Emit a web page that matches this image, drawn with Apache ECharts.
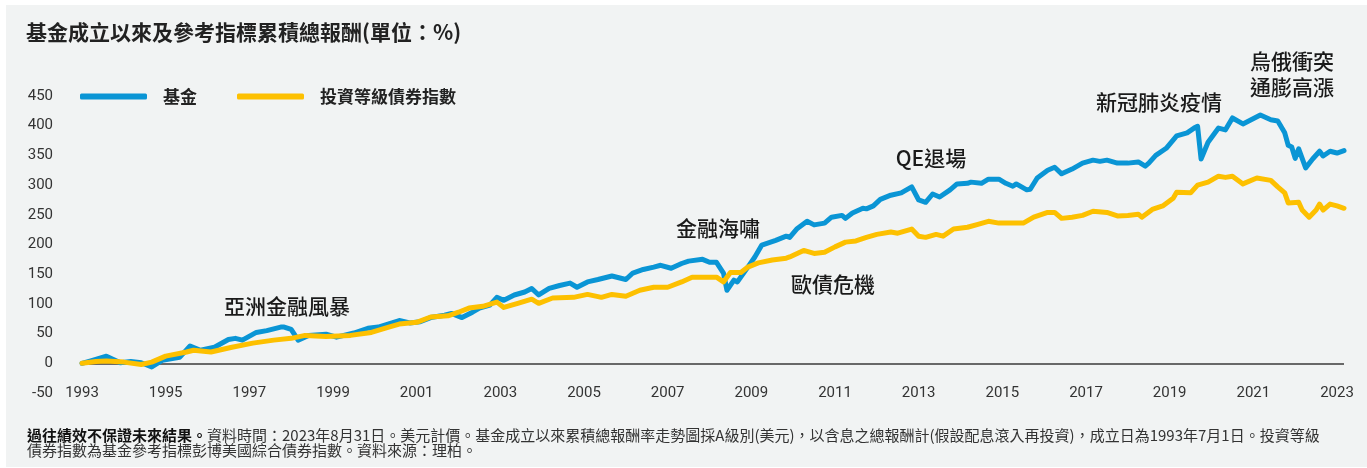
<!DOCTYPE html>
<html>
<head>
<meta charset="utf-8">
<script src="https://cdn.jsdelivr.net/npm/echarts@6/dist/echarts.min.js"></script>
<style>
  html, body { margin: 0; padding: 0; background: #fff; }
  #main { width: 1367px; height: 468px; }
</style>
</head>
<body>
<div id="main"></div>
<script>
// 月份以 1993年6月 為 0
var yearLabels = ['1993', '1995', '1997', '1999', '2001', '2003', '2005', '2007',
  '2009', '2011', '2013', '2015', '2017', '2019', '2021', '2023'];

// 基金
var fundMonths = [0, 3, 7, 11, 14, 17, 20, 23, 28, 31, 34, 38, 42, 44, 46, 50, 53, 57, 58, 60,
  62, 65, 70, 73, 78, 82, 85, 91, 94, 97, 100, 104, 106, 109, 112, 114, 117, 119, 121, 124,
  127, 129, 131, 134, 137, 140, 142, 145, 148, 152, 156, 158, 161, 164, 166, 169, 172, 174, 178, 180,
  182, 184, 185, 187, 188, 191, 193, 195, 199, 202, 203, 205, 208, 210, 213, 215, 218, 219, 221, 224,
  225, 227, 229, 232, 235, 238, 240, 242, 244, 246, 249, 251, 254, 255, 258, 260, 263, 265, 267, 268,
  271, 272, 274, 277, 279, 281, 284, 287, 290, 292, 294, 297, 300, 303, 305, 306, 308, 311, 314, 317,
  319, 320, 321, 323, 326, 328, 330, 333, 338, 341, 343, 345, 346, 347, 348, 349, 351, 353, 355, 356,
  358, 360, 362];
var fundValues = [0, 5, 12, 1, 3, 1, -6, 5, 10, 29, 22, 27, 40, 42, 39, 52, 55, 61, 61, 57,
  39, 47, 49, 44, 51, 59, 61, 72, 68, 70, 77, 81, 84, 77, 86, 93, 98, 111, 106, 115,
  120, 126, 115, 126, 131, 135, 128, 137, 141, 147, 141, 152, 158, 162, 165, 160, 168, 172, 175, 170,
  170, 152, 123, 140, 137, 162, 179, 199, 207, 214, 212, 226, 239, 233, 236, 246, 249, 244, 253, 261,
  260, 265, 276, 283, 287, 297, 275, 271, 285, 280, 292, 302, 303, 305, 303, 310, 310, 303, 298, 302,
  292, 293, 312, 325, 330, 319, 327, 337, 342, 340, 342, 337, 337, 339, 332, 337, 350, 362, 383, 388,
  396, 399, 344, 372, 396, 393, 413, 403, 418, 410, 408, 388, 367, 364, 345, 361, 329, 344, 357, 349,
  357, 354, 358];

// 投資等級債券指數
var bondMonths = [0, 4, 7, 12, 17, 20, 24, 30, 32, 37, 43, 49, 55, 60, 64, 70, 77, 83, 88, 91,
  96, 100, 105, 108, 111, 115, 119, 121, 125, 129, 131, 135, 141, 145, 149, 152, 156, 160, 164, 168,
  172, 175, 180, 182, 184, 186, 189, 191, 194, 198, 202, 203, 207, 210, 213, 216, 219, 222, 225, 228,
  232, 234, 238, 240, 242, 245, 247, 250, 254, 257, 260, 263, 267, 270, 273, 277, 279, 281, 284, 287,
  290, 294, 297, 300, 303, 304, 307, 310, 313, 314, 318, 320, 323, 326, 328, 330, 333, 337, 341, 343,
  345, 346, 349, 350, 352, 354, 355, 356, 358, 360, 362];
var bondValues = [0, 3, 4, 2, -2, 2, 12, 19, 22, 19, 27, 34, 39, 42, 47, 45, 47, 52, 61, 66,
  69, 78, 80, 86, 93, 96, 103, 94, 101, 108, 101, 110, 111, 116, 111, 116, 113, 123, 128, 128,
  137, 145, 145, 145, 137, 153, 153, 162, 169, 174, 177, 179, 190, 185, 187, 196, 204, 206, 212, 217,
  221, 219, 226, 214, 212, 217, 214, 226, 229, 234, 239, 236, 236, 236, 246, 254, 254, 244, 246, 249,
  256, 254, 248, 249, 251, 246, 259, 265, 278, 288, 287, 300, 305, 315, 313, 315, 302, 312, 308, 297,
  287, 270, 271, 258, 246, 258, 268, 258, 268, 265, 261];

var seriesNames = ['基金', '投資等級債券指數'];

function pairs(xs, ys) {
  return xs.map(function (m, i) { return [m, ys[i]]; });
}

var myChart = echarts.init(document.getElementById('main'));

// 只顯示 0 的那條線
var zeroLineColors = [];
for (var k = 0; k < 11; k++) {
  zeroLineColors.push(k === 1 ? '#3a3a3a' : 'rgba(0,0,0,0)');
}

var cjk = '"Noto Sans CJK TC", "Noto Sans CJK SC", sans-serif';

function note(text, x, y) {
  return {
    type: 'text',
    x: x,
    y: y,
    z: 50,
    style: {
      text: text,
      fill: '#1a1a1a',
      fontSize: 21,
      fontWeight: 500,
      fontFamily: cjk,
      lineHeight: 26,
      align: 'center',
      verticalAlign: 'middle',
      textAlign: 'center',
      textVerticalAlign: 'middle'
    }
  };
}

var option = {
  animation: false,
  graphic: [
    {
      type: 'rect',
      z: -100,
      shape: { x: 6, y: 5, width: 1361, height: 462 },
      style: { fill: '#f1f3f3' }
    },
    {
      type: 'text',
      x: 26,
      y: 32,
      style: {
        text: '基金成立以來及參考指標累積總報酬(單位：%)',
        fill: '#222',
        fontSize: 21,
        fontWeight: 'bold',
        fontFamily: cjk,
        verticalAlign: 'middle',
        textVerticalAlign: 'middle'
      }
    },
    note('亞洲金融風暴', 287, 306),
    note('金融海嘯', 718, 228),
    note('歐債危機', 833, 284),
    note('QE退場', 931, 158),
    note('新冠肺炎疫情', 1159, 102),
    note('烏俄衝突\n通膨高漲', 1292, 74),
    {
      type: 'text',
      x: 27,
      y: 428,
      style: {
        text: '{b|過往績效不保證未來結果。}資料時間：2023年8月31日。美元計價。基金成立以來累積總報酬率走勢圖採A級別(美元)，以含息之總報酬計(假設配息滾入再投資)，成立日為1993年7月1日。投資等級\n債券指數為基金參考指標彭博美國綜合債券指數。資料來源：理柏。',
        fill: '#333',
        fontSize: 15,
        fontFamily: cjk,
        lineHeight: 15,
        rich: {
          b: { fontWeight: 'bold', fontSize: 15, fontFamily: cjk, fill: '#111', lineHeight: 15 }
        }
      }
    }
  ],
  legend: {
    data: seriesNames,
    left: 80,
    top: 88,
    padding: 0,
    icon: 'roundRect',
    itemWidth: 67,
    itemHeight: 6,
    itemGap: 40,
    textStyle: {
      fontSize: 17,
      fontWeight: 'bold',
      fontFamily: cjk,
      color: '#222',
      padding: [0, 0, 0, 11]
    }
  },
  grid: {
    left: 82,
    right: 23,
    top: 96,
    bottom: 75
  },
  xAxis: {
    type: 'value',
    min: 0,
    max: 362,
    interval: 24,
    axisLine: { show: false },
    axisTick: { show: false },
    splitLine: { show: false },
    axisLabel: {
      margin: 0,
      verticalAlign: 'middle',
      color: '#333',
      fontSize: 15,
      fontFamily: 'Roboto',
      showMaxLabel: false,
      formatter: function (v) {
        return v % 24 === 0 ? yearLabels[v / 24] : '';
      }
    }
  },
  yAxis: {
    type: 'value',
    min: -50,
    max: 450,
    interval: 50,
    axisLine: { show: false },
    axisTick: { show: false },
    axisLabel: {
      margin: 29,
      color: '#333',
      fontSize: 15,
      fontFamily: 'Roboto'
    },
    splitLine: {
      show: true,
      lineStyle: { color: zeroLineColors, width: 1.5 }
    }
  },
  series: [
    {
      name: seriesNames[0],
      type: 'line',
      showSymbol: false,
      color: '#0a95d5',
      lineStyle: { width: 5, cap: 'round', join: 'round' },
      data: pairs(fundMonths, fundValues)
    },
    {
      name: seriesNames[1],
      type: 'line',
      showSymbol: false,
      color: '#fdc000',
      lineStyle: { width: 5, cap: 'round', join: 'round' },
      data: pairs(bondMonths, bondValues)
    }
  ]
};

myChart.setOption(option);
</script>
</body>
</html>
